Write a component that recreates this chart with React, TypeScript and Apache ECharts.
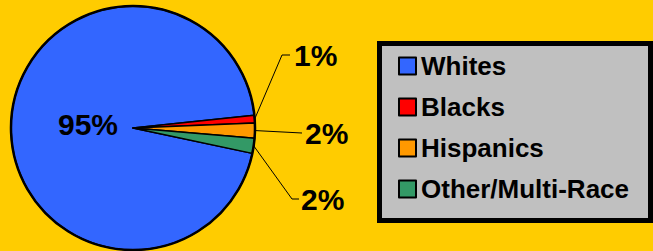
import React, { useEffect, useRef } from "react";
import * as echarts from "echarts";

const categories = ["Whites", "Blacks", "Hispanics", "Other/Multi-Race"];
const values = [95, 1, 2, 2];
const colors = ["#3366FF", "#FF0000", "#FF9900", "#339966"];

// label anchor positions (layout only)
const labelPos: { x: number; y: number; line?: number[][] }[] = [
  { x: 88, y: 124 },
  { x: 294, y: 55, line: [[282, 55], [290, 55]] },
  { x: 305, y: 133, line: [[302, 133], [302, 133]] },
  { x: 301, y: 199, line: [[292, 199], [299, 199]] },
];

const FONT = "'Liberation Sans', Arial, sans-serif";

export default function App() {
  const ref = useRef<HTMLDivElement>(null);
  useEffect(() => {
    if (!ref.current) return;
    const chart = echarts.init(ref.current, undefined, { renderer: "svg" });
    chart.setOption({
      animation: false,
      backgroundColor: "#FFCC00",
      graphic: [
        {
          type: "rect",
          z: 0,
          shape: { x: 379.5, y: 43.5, width: 271, height: 177 },
          style: { fill: "#C0C0C0", stroke: "#000", lineWidth: 5 },
        },
      ],
      legend: {
        z: 10,
        orient: "vertical",
        left: 398,
        top: 53,
        padding: 0,
        itemGap: 15,
        itemWidth: 17,
        itemHeight: 17,
        icon: "rect",
        data: categories,
        itemStyle: { borderColor: "#000", borderWidth: 2 },
        textStyle: {
          fontFamily: FONT,
          fontWeight: "bold",
          fontSize: 26,
          lineHeight: 26,
          color: "#000",
        },
      },
      series: [
        {
          type: "pie",
          center: [133, 128],
          radius: 122,
          startAngle: 348,
          clockwise: true,
          percentPrecision: 0,
          avoidLabelOverlap: false,
          itemStyle: { borderColor: "#000", borderWidth: 1.5 },
          emphasis: { disabled: true },
          label: {
            show: true,
            position: "outside",
            formatter: "{d}%",
            fontFamily: FONT,
            fontWeight: "bold",
            fontSize: 30,
            color: "#000",
          },
          labelLine: { show: true, lineStyle: { color: "#000", width: 1 } },
          labelLayout: (params: any) => {
            const p = labelPos[params.dataIndex];
            const res: any = {
              x: p.x,
              y: p.y,
              align: params.dataIndex === 0 ? "center" : "left",
              verticalAlign: "middle",
            };
            if (p.line && params.labelLinePoints) {
              const s = params.labelLinePoints[0];
              res.labelLinePoints = [s, p.line[0], p.line[1]];
            }
            return res;
          },
          data: categories.map((name, i) => ({
            name,
            value: values[i],
            itemStyle: { color: colors[i] },
            label: i === 0 ? { position: "inside" } : undefined,
            labelLine: i === 0 ? { show: false } : undefined,
          })),
        },
        {
          type: "pie",
          center: [133, 128],
          radius: 122,
          silent: true,
          label: { show: false },
          labelLine: { show: false },
          itemStyle: { color: "transparent", borderColor: "#000", borderWidth: 2.5 },
          data: [{ value: 1, name: "__outline" }],
          legendHoverLink: false,
          z: 3,
        },
      ],
    });
    return () => chart.dispose();
  }, []);
  return (
    <div
      ref={ref}
      style={{ position: "fixed", left: 0, top: 0, width: 653, height: 251 }}
    />
  );
}
